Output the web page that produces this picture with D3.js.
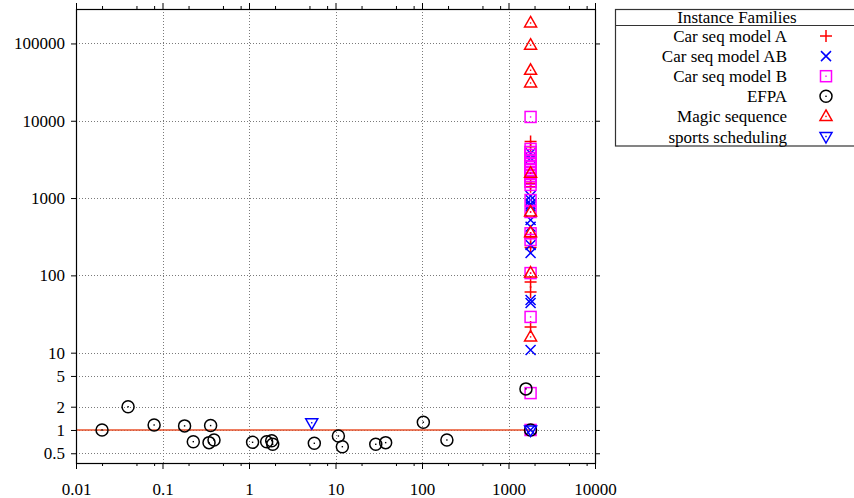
<!DOCTYPE html>
<html>
<head>
<meta charset="utf-8">
<script src="https://cdn.jsdelivr.net/npm/d3@7"></script>
<style>
  html, body { margin: 0; padding: 0; background: #fff; }
  svg { display: block; font-family: "Liberation Serif", "Times New Roman", serif; }
</style>
</head>
<body>
<svg id="chart" width="854" height="498"></svg>
<script>
// Runtime (x) against ratio (y) per instance family, both log scale.
const xTicks = [0.01, 0.1, 1, 10, 100, 1000, 10000];
const xMinorTicks = [0.02, 0.05, 0.08, 0.2, 0.5, 0.8, 2, 5, 8, 20, 50, 80, 200, 500, 800, 2000, 5000, 8000];
const yTicks = [0.5, 1, 2, 5, 10, 100, 1000, 10000, 100000];
const xDomain = [0.01, 10000];
const yDomain = [0.374, 279000];
const refLine = [[0.01, 1], [1800, 1]];

const families = ["Car seq model A", "Car seq model AB", "Car seq model B", "EFPA", "Magic sequence", "sports scheduling"];

const carSeqA = [[1800, 5400], [1800, 4600], [1800, 1560], [1800, 1400], [1800, 305], [1800, 230],
  [1800, 82], [1800, 61], [1800, 21.5]];
const carSeqAB = [[1800, 3800], [1800, 3300], [1800, 1065], [1800, 944], [1800, 835], [1800, 780],
  [1800, 520], [1800, 425], [1800, 247], [1800, 195], [1800, 48], [1800, 44], [1800, 10.8], [1800, 1]];
const carSeqB = [[1800, 11200], [1800, 4320], [1800, 3950], [1800, 3610], [1800, 3300], [1800, 3020],
  [1800, 2760], [1800, 2520], [1800, 2310], [1800, 2110], [1800, 1930], [1800, 1770], [1800, 1620],
  [1800, 1480], [1800, 944], [1800, 660], [1800, 350], [1800, 287],
  [1800, 107], [1800, 29], [1800, 3.0], [1800, 1]];
const efpa = [[0.02, 1], [0.04, 2], [0.08, 1.16], [0.18, 1.13], [0.227, 0.706], [0.345, 0.686],
  [0.36, 1.14], [0.394, 0.742], [1.10, 0.693], [1.60, 0.706], [1.83, 0.727], [1.88, 0.653],
  [5.69, 0.673], [10.8, 0.836], [12.0, 0.608], [29.2, 0.653], [38.0, 0.686], [103.6, 1.26],
  [194, 0.742], [1592, 3.4], [1800, 1]];
const magicSeq = [[1800, 184000], [1800, 95000], [1800, 45000], [1800, 30800], [1800, 2100],
  [1800, 660], [1800, 355], [1800, 107], [1800, 16]];
const sports = [[5.31, 1.24], [1800, 1]];

const seriesData = [carSeqA, carSeqAB, carSeqB, efpa, magicSeq, sports];
const colors = ["#ff0000", "#0000ff", "#ff00ff", "#000000", "#ff0000", "#0000ff"];
const shapes = ["plus", "cross", "square", "circle", "triUp", "triDown"];

const svg = d3.select("#chart");
const plot = { left: 76, right: 595, top: 9, bottom: 463 };

const x = d3.scaleLog().domain(xDomain).range([plot.left, plot.right]);
const y = d3.scaleLog().domain(yDomain).range([plot.bottom, plot.top]);

// grid
const grid = svg.append("g").attr("stroke", "#7a7a7a").attr("stroke-width", 1).attr("stroke-dasharray", "1,2");
grid.selectAll("line.gx").data(xTicks.slice(1, -1)).join("line")
  .attr("x1", d => Math.round(x(d)) + 0.5).attr("x2", d => Math.round(x(d)) + 0.5)
  .attr("y1", plot.top).attr("y2", plot.bottom);
grid.selectAll("line.gy").data(yTicks).join("line")
  .attr("y1", d => Math.round(y(d)) + 0.5).attr("y2", d => Math.round(y(d)) + 0.5)
  .attr("x1", plot.left).attr("x2", plot.right);

// axes
function styleAxis(g) {
  g.select(".domain").remove();
  g.selectAll(".tick line").attr("stroke", "#000").attr("stroke-width", 1);
  g.selectAll(".tick text").attr("font-size", 17).attr("fill", "#000")
    .attr("font-family", "Liberation Serif, Times New Roman, serif");
}
svg.append("g").attr("transform", `translate(0,${plot.bottom})`)
  .call(d3.axisBottom(x).tickValues(xTicks).tickFormat(d => String(d)).tickSize(6).tickPadding(14))
  .call(styleAxis);
svg.append("g").attr("transform", `translate(0,${plot.bottom})`)
  .call(d3.axisBottom(x).tickValues(xMinorTicks).tickFormat("").tickSize(3)).call(styleAxis);
svg.append("g").attr("transform", `translate(0,${plot.top})`)
  .call(d3.axisTop(x).tickValues(xTicks).tickFormat("").tickSize(6)).call(styleAxis);
svg.append("g").attr("transform", `translate(0,${plot.top})`)
  .call(d3.axisTop(x).tickValues(xMinorTicks).tickFormat("").tickSize(3)).call(styleAxis);
svg.append("g").attr("transform", `translate(${plot.left},0)`)
  .call(d3.axisLeft(y).tickValues(yTicks).tickFormat(d => String(d)).tickSize(5).tickPadding(6))
  .call(styleAxis);
svg.append("g").attr("transform", `translate(${plot.right},0)`)
  .call(d3.axisRight(y).tickValues(yTicks).tickFormat("").tickSize(5)).call(styleAxis);

// y = 1 reference line
svg.append("path").datum(refLine)
  .attr("d", d3.line().x(d => x(d[0])).y(d => y(d[1])))
  .attr("stroke", "#e8502a").attr("stroke-width", 1.6).attr("fill", "none");

// point symbols
function drawSymbol(g, shape, color, cx, cy) {
  const s = g.append("g").attr("transform", `translate(${cx},${cy})`)
    .attr("stroke", color).attr("stroke-width", 1.5).attr("fill", "none");
  const dot = () => s.append("rect").attr("x", -0.7).attr("y", -0.7).attr("width", 1.4).attr("height", 1.4)
    .attr("fill", color).attr("stroke", "none");
  if (shape === "plus") {
    s.append("path").attr("d", "M-6,0H6M0,-6V6");
  } else if (shape === "cross") {
    s.append("path").attr("d", "M-5,-5L5,5M-5,5L5,-5");
  } else if (shape === "square") {
    s.append("rect").attr("x", -5.5).attr("y", -5.5).attr("width", 11).attr("height", 11);
    dot();
  } else if (shape === "circle") {
    s.append("circle").attr("r", 6);
    dot();
  } else if (shape === "triUp") {
    s.append("path").attr("d", "M0,-6.5L6,4L-6,4Z");
    dot();
  } else if (shape === "triDown") {
    s.append("path").attr("d", "M0,6.5L6,-4L-6,-4Z");
    dot();
  }
}

const marks = svg.append("g");
seriesData.forEach((pts, i) => {
  pts.forEach(p => drawSymbol(marks, shapes[i], colors[i], x(p[0]), y(p[1])));
});

// frame
svg.append("rect").attr("x", plot.left + 0.5).attr("y", plot.top + 0.5)
  .attr("width", plot.right - plot.left).attr("height", plot.bottom - plot.top)
  .attr("fill", "none").attr("stroke", "#000").attr("stroke-width", 1.2);

// legend
const lg = svg.append("g");
lg.append("rect").attr("x", 615.5).attr("y", 9.5).attr("width", 250).attr("height", 136.5)
  .attr("fill", "none").attr("stroke", "#333").attr("stroke-width", 1.2);
lg.append("line").attr("x1", 615.5).attr("x2", 860).attr("y1", 25.5).attr("y2", 25.5)
  .attr("stroke", "#333").attr("stroke-width", 1.2);
lg.append("text").attr("x", 737).attr("y", 23).attr("text-anchor", "middle")
  .attr("font-size", 17).text("Instance Families");
families.forEach((name, i) => {
  const cy = 36 + i * 20.1;
  lg.append("text").attr("x", 787).attr("y", cy + 6).attr("text-anchor", "end")
    .attr("font-size", 17).text(name);
  drawSymbol(lg, shapes[i], colors[i], 826, cy);
});
</script>
</body>
</html>
